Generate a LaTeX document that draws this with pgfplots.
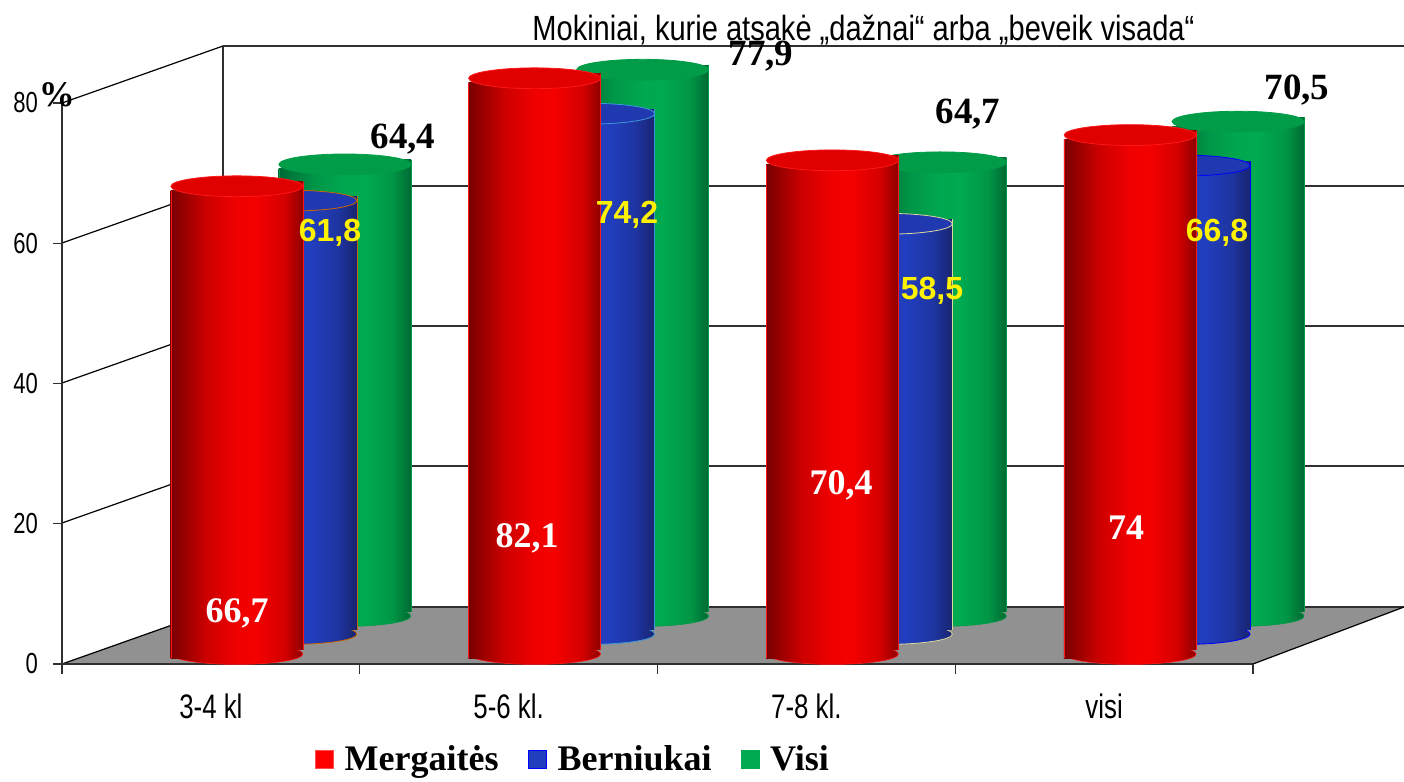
\documentclass[border=0pt]{standalone}
\usepackage{fontspec}
\setmainfont{Liberation Serif}
\newfontfamily\narrow[FakeStretch=0.76]{Liberation Sans}
\newfontfamily\titlef[FakeStretch=0.83]{Liberation Sans}
\newfontfamily\sansf{Liberation Sans}
\usepackage{pgfplots}
\pgfplotsset{compat=1.18}

\definecolor{capred}{HTML}{E00000}
\definecolor{rimred}{HTML}{FF1818}
\definecolor{capblue}{HTML}{2038B0}
\definecolor{capgreen}{HTML}{009C48}
\definecolor{gridc}{HTML}{303030}

% half shadings, the body of a cylinder is two half bars
% pgf fits the part from 25bp to 75bp of a shading to the path
\definecolor{r0}{RGB}{120,0,0}\definecolor{r1}{RGB}{205,0,0}\definecolor{r2}{RGB}{240,0,0}\definecolor{r3}{RGB}{244,0,0}\definecolor{r4}{RGB}{212,0,0}\definecolor{r5}{RGB}{140,0,0}
\definecolor{b0}{RGB}{22,36,110}\definecolor{b1}{RGB}{30,55,175}\definecolor{b2}{RGB}{33,62,190}\definecolor{b3}{RGB}{33,62,190}\definecolor{b4}{RGB}{30,52,160}\definecolor{b5}{RGB}{24,36,110}
\definecolor{g0}{RGB}{0,105,52}\definecolor{g1}{RGB}{0,150,72}\definecolor{g2}{RGB}{0,168,80}\definecolor{g3}{RGB}{0,170,80}\definecolor{g4}{RGB}{0,150,70}\definecolor{g5}{RGB}{0,105,50}
\newcommand{\mkshade}[1]{%
  \pgfdeclarehorizontalshading{#1full}{100bp}{color(0bp)=(#10); color(25bp)=(#10); color(38.5bp)=(#11); color(50bp)=(#12); color(57.5bp)=(#13); color(68bp)=(#14); color(75bp)=(#15); color(100bp)=(#15)}%
  \pgfdeclarehorizontalshading{#1left}{100bp}{color(0bp)=(#10); color(25bp)=(#10); color(52bp)=(#11); color(75bp)=(#12); color(100bp)=(#12)}%
  \pgfdeclarehorizontalshading{#1right}{100bp}{color(0bp)=(#12); color(25bp)=(#12); color(40bp)=(#13); color(61bp)=(#14); color(75bp)=(#15); color(100bp)=(#15)}%
}
\mkshade{r}\mkshade{b}\mkshade{g}

% (0pt,0pt) and not (0,0), which inside an axis would mean axis cs
\pgfdeclareplotmark{cylcap}{\path[draw,fill,rotate=4,line width=0.4pt] (0pt,0pt) ellipse [x radius=33pt,y radius=5.2pt];}
\pgfdeclareplotmark{baser}{\path[draw,shade,shading=rfull,rotate=4,line width=0.3pt] (0pt,0pt) ellipse [x radius=33pt,y radius=5.2pt];}
\pgfdeclareplotmark{baseb}{\path[draw,shade,shading=bfull,rotate=4,line width=0.4pt] (0pt,0pt) ellipse [x radius=33pt,y radius=5.2pt];}
\pgfdeclareplotmark{baseg}{\path[draw,shade,shading=gfull,rotate=4,line width=0.3pt] (0pt,0pt) ellipse [x radius=33pt,y radius=5.2pt];}

% #1 shade letter, #2 dx, #3 dy, #4 rim colour, #5 cap colour, #6 one coordinate
\newcommand{\cylinder}[6]{%
  \addplot[only marks,mark=base#1,mark options={draw=#4},xshift=#2pt,yshift=#3pt,
    y filter/.code={\pgfmathparse{0}}] coordinates {#6};
  \addplot[ybar,bar shift=0pt,bar width=33.3pt,draw=none,shade,shading=#1left,
    xshift=#2pt-16.5pt,yshift=#3pt-2.2pt] coordinates {#6};
  \addplot[ybar,bar shift=0pt,bar width=33.3pt,draw=none,shade,shading=#1right,
    xshift=#2pt+16.5pt,yshift=#3pt+2.2pt] coordinates {#6};
  \addplot[ycomb,draw=#4,line width=0.3pt,mark=none,xshift=#2pt+33pt,yshift=#3pt+2.2pt] coordinates {#6};
  \addplot[ycomb,draw=#4,line width=0.3pt,mark=none,xshift=#2pt-33pt,yshift=#3pt-2.2pt] coordinates {#6};
  \addplot[only marks,mark=cylcap,mark options={draw=#4,fill=#5},xshift=#2pt,yshift=#3pt] coordinates {#6};
}

\pgfplotsset{pix/.style={at={(0pt,0pt)},anchor=south west,scale only axis,width=702pt,height=391pt,
  xmin=0,xmax=1404,ymin=0,ymax=782,y dir=reverse,hide axis,clip=false}}

\begin{document}
\begin{tikzpicture}
\path[use as bounding box] (0,0) rectangle (702pt,391pt);

% walls and floor, in pixels of the picture
\begin{axis}[pix]
\addplot[fill=black!43,draw=none] coordinates {(62,664)(223,607)(1404,607)(1253,664)} -- cycle;
\addplot[gridc,line width=0.7pt] coordinates {(223,46)(1404,46)};
\addplot[gridc,line width=0.7pt] coordinates {(223,186)(1404,186)};
\addplot[gridc,line width=0.7pt] coordinates {(223,326)(1404,326)};
\addplot[gridc,line width=0.7pt] coordinates {(223,466)(1404,466)};
\addplot[gridc,line width=0.7pt] coordinates {(223,607)(1404,607)};
\addplot[gridc,line width=0.7pt] coordinates {(223,46)(223,607)};
\addplot[black,line width=0.6pt] coordinates {(62,103)(223,46)};
\addplot[black,line width=0.6pt] coordinates {(62,243)(223,186)};
\addplot[black,line width=0.6pt] coordinates {(62,383)(223,326)};
\addplot[black,line width=0.6pt] coordinates {(62,523)(223,466)};
\addplot[black,line width=0.6pt] coordinates {(62,664)(223,607)};
\addplot[black,line width=0.6pt] coordinates {(1253,664)(1404,607)};
\end{axis}

% the data
\begin{axis}[
  at={(31pt,59pt)},anchor=south west,scale only axis,width=595.5pt,height=280.5pt,
  xmin=-0.5,xmax=3.5,ymin=0,ymax=80,clip=false,clip mode=individual,
  axis x line*=bottom,axis y line*=left,
  axis line style={gridc,line width=0.7pt,-},
  tick style={gridc,line width=0.6pt},tick align=outside,
  major tick length=4.5pt,
  xtick={0,1,2,3},
  xticklabels={3-4 kl,5-6 kl.,7-8 kl.,visi},
  major x tick style={draw=none},
  minor xtick={-0.5,0.5,1.5,2.5,3.5},
  minor tick length=5pt,
  ytick={0,20,40,60,80},
  /pgf/number format/assume math mode=true,
  yticklabel style={font=\narrow\fontsize{14.5}{16}\selectfont,xshift=-4pt},
  xticklabel style={font=\narrow\fontsize{17}{19}\selectfont,yshift=-7pt},
]
% Visi, furthest back
\cylinder{g}{67}{24}{capgreen}{capgreen}{(0,64.4)}
\cylinder{g}{67}{24}{capgreen}{capgreen}{(1,77.9)}
\cylinder{g}{67}{24}{capgreen}{capgreen}{(2,64.7)}
\cylinder{g}{67}{24}{capgreen}{capgreen}{(3,70.5)}
% Berniukai, each cylinder has its own outline colour
\cylinder{b}{40}{15}{orange!80!black}{capblue}{(0,61.8)}
\cylinder{b}{40}{15}{cyan!70!blue!80!white}{capblue}{(1,74.2)}
\cylinder{b}{40}{15}{yellow!35!white!85!black}{capblue}{(2,58.5)}
\cylinder{b}{40}{15}{blue}{capblue}{(3,66.8)}
% Mergaites, in front
\cylinder{r}{13}{5}{rimred}{capred}{(0,66.7)}
\cylinder{r}{13}{5}{rimred}{capred}{(1,82.1)}
\cylinder{r}{13}{5}{rimred}{capred}{(2,70.4)}
\cylinder{r}{13}{5}{rimred}{capred}{(3,74)}
\end{axis}

% texts and legend, in pixels again
\begin{axis}[pix,
  legend columns=3,
  legend style={at={(0.2244,0.0294)},anchor=west,draw=none,fill=none,inner sep=0pt,outer sep=0pt,
    /tikz/every odd column/.append style={column sep=3.5pt},
    /tikz/every even column/.append style={column sep=12.5pt},
    font=\bfseries\fontsize{18}{20}\selectfont},
  legend image code/.code={\path[#1] (0pt,-4.5pt) rectangle (9pt,4.5pt);},
]
\node[anchor=base west,inner sep=0pt,font=\titlef\fontsize{17.5}{20}\selectfont] at (axis cs:532,40) {Mokiniai, kurie atsakė „dažnai“ arba „beveik visada“};
\node[inner sep=0pt,font=\bfseries\fontsize{18}{20}\selectfont] at (axis cs:57,95) {\%};
% black: Visi
\begin{scope}[every node/.style={inner sep=0pt,font=\bfseries\fontsize{18.5}{20}\selectfont}]
\node at (axis cs:403,139) {64,4};
\node at (axis cs:761,56) {77,9};
\node at (axis cs:968,114) {64,7};
\node at (axis cs:1297,90) {70,5};
\end{scope}
% yellow: Berniukai
\begin{scope}[every node/.style={inner sep=0pt,text=yellow,font=\sansf\bfseries\fontsize{16}{18}\selectfont}]
\node at (axis cs:330,233) {61,8};
\node at (axis cs:627,215) {74,2};
\node at (axis cs:932,291) {58,5};
\node at (axis cs:1217,233) {66,8};
\end{scope}
% white: Mergaites
\begin{scope}[every node/.style={inner sep=0pt,text=white,font=\bfseries\fontsize{18}{20}\selectfont}]
\node at (axis cs:237,613) {66,7};
\node at (axis cs:527,538) {82,1};
\node at (axis cs:841,485) {70,4};
\node at (axis cs:1126,528) {74};
\end{scope}
\addlegendimage{fill=red,draw=red!70!white,line width=0.3pt}
\addlegendentry{Mergaitės}
\addlegendimage{fill=b2,draw=blue,line width=0.5pt}
\addlegendentry{Berniukai}
\addlegendimage{fill=g3,draw=g3,line width=0.3pt}
\addlegendentry{Visi}
\end{axis}
\end{tikzpicture}
\end{document}
